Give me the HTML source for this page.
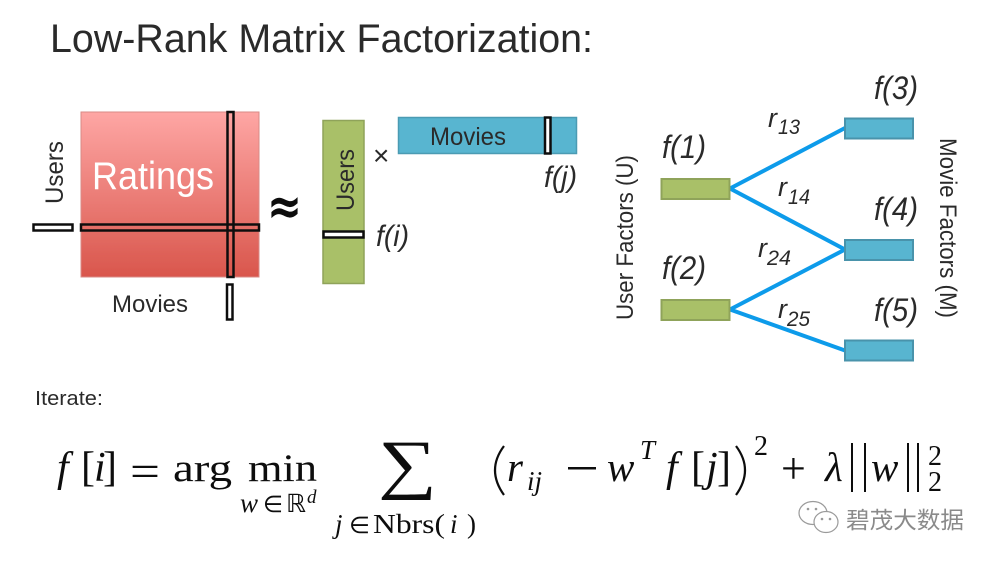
<!DOCTYPE html>
<html><head><meta charset="utf-8"><style>
html,body{margin:0;padding:0;background:#fff;width:997px;height:563px;overflow:hidden}
svg{display:block}
text{font-family:"Liberation Sans","Noto Sans CJK SC",sans-serif;fill:#2a2a2a}
.s{font-family:"Liberation Serif",serif;fill:#111}
.i{font-style:italic}
</style></head><body>
<svg width="997" height="563" viewBox="0 0 997 563" xmlns="http://www.w3.org/2000/svg">
<defs>
<linearGradient id="r" x1="0" y1="0" x2="0" y2="1"><stop offset="0" stop-color="#fea6a4"/><stop offset="1" stop-color="#d9564c"/></linearGradient>
<filter id="b" x="-5%" y="-5%" width="110%" height="110%"><feGaussianBlur stdDeviation="0.35"/></filter>
</defs>
<g filter="url(#b)">
<text x="50" y="52" font-size="40" textLength="543" lengthAdjust="spacingAndGlyphs">Low-Rank Matrix Factorization:</text>
<rect x="81" y="112" width="178" height="165" fill="url(#r)" stroke="#d98a86" stroke-width="1"/>
<text x="92" y="189" font-size="39" style="fill:#fff" textLength="122" lengthAdjust="spacingAndGlyphs">Ratings</text>
<text transform="translate(63,204) rotate(-90)" font-size="25" textLength="63" lengthAdjust="spacingAndGlyphs">Users</text>
<text x="112" y="312" font-size="24" textLength="76" lengthAdjust="spacingAndGlyphs">Movies</text>
<rect x="81" y="224.500" width="178" height="6" fill="none" stroke="#111" stroke-width="2.500"/>
<rect x="227.500" y="112" width="6" height="165" fill="none" stroke="#111" stroke-width="2.500"/>
<rect x="33.500" y="224.500" width="39" height="6" fill="#fff" stroke="#111" stroke-width="2.500"/>
<rect x="227" y="284.500" width="5.500" height="35" fill="#fff" stroke="#111" stroke-width="2.500"/>
<text x="267" y="224" font-size="52" font-weight="bold" style="fill:#111;font-family:'DejaVu Sans',sans-serif" textLength="35" lengthAdjust="spacingAndGlyphs">≈</text>

<rect x="323" y="120.500" width="41" height="163" fill="#a9c068" stroke="#8fa35a" stroke-width="1.500"/>
<rect x="323.500" y="231.500" width="40" height="6" fill="#fff" stroke="#111" stroke-width="2.500"/>
<text transform="translate(354,211) rotate(-90)" font-size="25" textLength="62" lengthAdjust="spacingAndGlyphs">Users</text>
<text x="373" y="165" font-size="28">×</text>
<rect x="398.500" y="117.500" width="178" height="36" fill="#58b5d0" stroke="#4b9bb3" stroke-width="1.500"/>
<rect x="545" y="117.500" width="5.500" height="36" fill="#fff" stroke="#111" stroke-width="2.500"/>
<text x="430" y="145" font-size="25" textLength="76" lengthAdjust="spacingAndGlyphs">Movies</text>
<text x="544" y="187" font-size="30" class="i" textLength="33" lengthAdjust="spacingAndGlyphs">f(j)</text>
<text x="376" y="246" font-size="30" class="i" textLength="33" lengthAdjust="spacingAndGlyphs">f(i)</text>

<g stroke="#0c9bea" stroke-width="4" fill="none">
<line x1="730" y1="188.500" x2="845" y2="128"/>
<line x1="730" y1="188.500" x2="845" y2="249.500"/>
<line x1="730" y1="309.500" x2="845" y2="249.500"/>
<line x1="730" y1="309.500" x2="845" y2="350.500"/>
</g>
<g stroke-width="2">
<rect x="661.500" y="179" width="68" height="20" fill="#a9c068" stroke="#8fa35a"/>
<rect x="661.500" y="300" width="68" height="20" fill="#a9c068" stroke="#8fa35a"/>
<rect x="845" y="118.500" width="68" height="20" fill="#58b5d0" stroke="#4a93ab"/>
<rect x="845" y="240" width="68" height="20" fill="#58b5d0" stroke="#4a93ab"/>
<rect x="845" y="340.500" width="68" height="20" fill="#58b5d0" stroke="#4a93ab"/>
</g>
<text x="662" y="158" font-size="32" class="i" textLength="44" lengthAdjust="spacingAndGlyphs">f(1)</text>
<text x="662" y="279" font-size="32" class="i" textLength="44" lengthAdjust="spacingAndGlyphs">f(2)</text>
<text x="874" y="99" font-size="32" class="i" textLength="44" lengthAdjust="spacingAndGlyphs">f(3)</text>
<text x="874" y="220" font-size="32" class="i" textLength="44" lengthAdjust="spacingAndGlyphs">f(4)</text>
<text x="874" y="321" font-size="32" class="i" textLength="44" lengthAdjust="spacingAndGlyphs">f(5)</text>
<text x="768" y="127" font-size="27" class="i">r</text><text x="778" y="134" font-size="21" class="i" textLength="22" lengthAdjust="spacingAndGlyphs">13</text>
<text x="778" y="196" font-size="27" class="i">r</text><text x="788" y="204" font-size="21" class="i" textLength="22" lengthAdjust="spacingAndGlyphs">14</text>
<text x="758" y="257" font-size="27" class="i">r</text><text x="767" y="265" font-size="21" class="i" textLength="24" lengthAdjust="spacingAndGlyphs">24</text>
<text x="778" y="318" font-size="27" class="i">r</text><text x="787" y="326" font-size="21" class="i" textLength="23" lengthAdjust="spacingAndGlyphs">25</text>
<text transform="translate(633,320) rotate(-90)" font-size="24" textLength="165" lengthAdjust="spacingAndGlyphs">User Factors (U)</text>
<text transform="translate(940,138) rotate(90)" font-size="24" textLength="180" lengthAdjust="spacingAndGlyphs">Movie Factors (M)</text>
<text x="35" y="405" font-size="20" textLength="68" lengthAdjust="spacingAndGlyphs">Iterate:</text>

<text class="s i" x="57" y="481" font-size="42">f</text>
<text class="s" x="81" y="481" font-size="42">[</text>
<text class="s i" x="94" y="481" font-size="42">i</text>
<text class="s" x="103" y="481" font-size="42">]</text>
<text class="s" x="130" y="486" font-size="44" textLength="30" lengthAdjust="spacingAndGlyphs">=</text>
<text class="s" x="173" y="481" font-size="39" textLength="59" lengthAdjust="spacingAndGlyphs">arg</text>
<text class="s" x="248" y="481" font-size="39" textLength="69" lengthAdjust="spacingAndGlyphs">min</text>
<text class="s i" x="240" y="512" font-size="27">w</text>
<text x="263" y="512" font-size="23" style="font-family:'DejaVu Sans',sans-serif;fill:#111" textLength="20" lengthAdjust="spacingAndGlyphs">∈</text>
<text x="286" y="512" font-size="25" style="font-family:'DejaVu Sans',sans-serif;fill:#111" textLength="20" lengthAdjust="spacingAndGlyphs">ℝ</text>
<text class="s i" x="307" y="503" font-size="19">d</text>
<text class="s" x="378" y="486" font-size="66" textLength="59" lengthAdjust="spacingAndGlyphs">∑</text>
<text class="s i" x="335" y="533" font-size="27">j</text>
<text x="349" y="533" font-size="23" style="font-family:'DejaVu Sans',sans-serif;fill:#111" textLength="21" lengthAdjust="spacingAndGlyphs">∈</text>
<text class="s" x="373" y="533" font-size="27" textLength="72" lengthAdjust="spacingAndGlyphs">Nbrs(</text>
<text class="s i" x="450" y="533" font-size="27">i</text>
<text class="s" x="467" y="533" font-size="27">)</text>
<path d="M504 446 Q486 470 504 495" fill="none" stroke="#111" stroke-width="2.200"/>
<text class="s i" x="507" y="481" font-size="41">r</text>
<text class="s i" x="527" y="490" font-size="27">ij</text>
<rect x="568" y="467" width="28" height="2.500" fill="#111"/>
<text class="s i" x="607" y="481" font-size="41">w</text>
<text class="s i" x="640" y="459" font-size="27">T</text>
<text class="s i" x="666" y="481" font-size="42">f</text>
<text class="s" x="691" y="481" font-size="42">[</text>
<text class="s i" x="706" y="481" font-size="42">j</text>
<text class="s" x="717" y="481" font-size="42">]</text>
<path d="M736 446 Q754 470 736 495" fill="none" stroke="#111" stroke-width="2.200"/>
<text class="s" x="754" y="455" font-size="28">2</text>
<text class="s" x="781" y="483" font-size="44">+</text>
<text class="s i" x="825" y="481" font-size="41">λ</text>
<rect x="851" y="443" width="2" height="49" fill="#111"/><rect x="864" y="443" width="2" height="49" fill="#111"/>
<text class="s i" x="871" y="481" font-size="41">w</text>
<rect x="907" y="443" width="2" height="49" fill="#111"/><rect x="917" y="443" width="2" height="49" fill="#111"/>
<text class="s" x="928" y="465" font-size="28">2</text>
<text class="s" x="928" y="491" font-size="28">2</text>
</g>
<g fill="#fff" stroke="#9a9a9a" stroke-width="1.200">
<ellipse cx="813" cy="513" rx="14" ry="11.500"/>
<ellipse cx="826" cy="522" rx="12" ry="10.500"/>
</g>
<circle cx="808" cy="509" r="1.300" fill="#999"/><circle cx="816" cy="509" r="1.300" fill="#999"/>
<circle cx="822" cy="519" r="1.300" fill="#999"/><circle cx="830" cy="519" r="1.300" fill="#999"/>
<text x="846" y="528" font-size="23" style="fill:#8a8a8a;font-family:'Noto Sans CJK SC',sans-serif" textLength="118" lengthAdjust="spacingAndGlyphs">碧茂大数据</text>
</svg>
</body></html>
